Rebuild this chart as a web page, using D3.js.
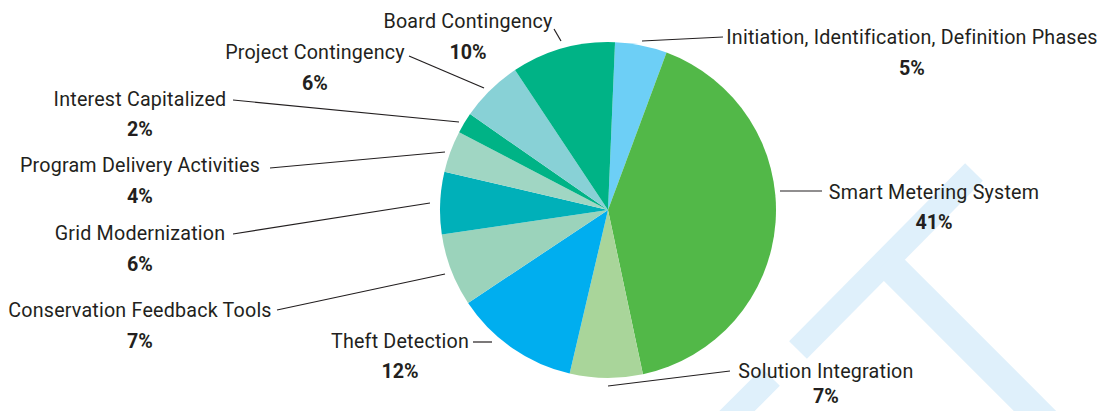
<!DOCTYPE html>
<html>
<head>
<meta charset="utf-8">
<script src="https://cdn.jsdelivr.net/npm/d3@7"></script>
<style>
  body { margin: 0; background: #fff; }
  svg text { font-family: Roboto, "Noto Sans", sans-serif; fill: #231f20; }
</style>
</head>
<body>
<div id="chart"></div>
<script>
// budget categories, clockwise from 12 o'clock
var categories = [
  'Initiation, Identification, Definition Phases',
  'Smart Metering System',
  'Solution Integration',
  'Theft Detection',
  'Conservation Feedback Tools',
  'Grid Modernization',
  'Program Delivery Activities',
  'Interest Capitalized',
  'Project Contingency',
  'Board Contingency'
]
var shares = [5, 41, 7, 12, 7, 6, 4, 2, 6, 10]
var colors = ['#6dcff6', '#52b848', '#a9d59a', '#00aeef', '#9bd3bb',
  '#00b0b9', '#a0d6c3', '#00b386', '#88d1d6', '#00b386']

// label layout: text centre x, baseline y, gap to the % line, leader line [x1,y1,x2,y2]
var labelLayout = [
  { x: 912, y: 44, gap: 30.5, line: [642, 41, 723, 37] },
  { x: 934, y: 199, gap: 29.5, line: [780, 191, 822, 191] },
  { x: 826, y: 378, gap: 25, line: [608, 386, 730, 371] },
  { x: 400, y: 348, gap: 30, line: [473, 342, 492, 342] },
  { x: 140, y: 317, gap: 30.5, line: [277, 310, 445, 274] },
  { x: 140, y: 240, gap: 30.5, line: [233, 234, 430, 203] },
  { x: 140, y: 172, gap: 31, line: [270, 168, 445, 152] },
  { x: 140, y: 106, gap: 30, line: [233, 100, 459, 122] },
  { x: 315, y: 59, gap: 30.5, line: [409, 56, 484, 88] },
  { x: 468, y: 28, gap: 30.5, line: [554, 29, 561, 41] }
]

var w = 1102
var h = 411
var cx = 608, cy = 210, r = 168

var svg = d3.select('#chart')
  .append('svg')
  .attr('width', w)
  .attr('height', h)

// faint watermark strokes in the background
var mark = svg.append('g').attr('stroke', '#dff0fb')
mark.append('line')
  .attr('x1', 798).attr('y1', 350).attr('x2', 974).attr('y2', 172)
  .attr('stroke-width', 25)
mark.append('line')
  .attr('x1', 886).attr('y1', 262).attr('x2', 1080).attr('y2', 456)
  .attr('stroke-width', 30)
mark.append('line')
  .attr('x1', 771).attr('y1', 377).attr('x2', 700).attr('y2', 448)
  .attr('stroke-width', 25)

var data = categories.map((c, i) => ({ name: c, value: shares[i], color: colors[i], pos: labelLayout[i] }))

var start = 2.4 * Math.PI / 180
var pie = d3.pie()
  .sort(null)
  .value(d => d.value)
  .startAngle(start)
  .endAngle(start + 2 * Math.PI)

var arc = d3.arc()
  .innerRadius(0)
  .outerRadius(r)

svg.append('g')
  .attr('transform', `translate(${cx},${cy})`)
  .selectAll('path')
  .data(pie(data))
  .enter()
  .append('path')
  .attr('d', arc)
  .attr('fill', d => d.data.color)

var labels = svg.append('g')
  .selectAll('g')
  .data(data)
  .enter()
  .append('g')

labels.append('line')
  .attr('x1', d => d.pos.line[0])
  .attr('y1', d => d.pos.line[1])
  .attr('x2', d => d.pos.line[2])
  .attr('y2', d => d.pos.line[3])
  .attr('stroke', '#231f20')
  .attr('stroke-width', 1.2)

labels.append('text')
  .attr('x', d => d.pos.x)
  .attr('y', d => d.pos.y)
  .attr('text-anchor', 'middle')
  .style('font-size', '19.7px')
  .style('letter-spacing', '0.2px')
  .text(d => d.name)

labels.append('text')
  .attr('x', d => d.pos.x)
  .attr('y', d => d.pos.y + d.pos.gap)
  .attr('text-anchor', 'middle')
  .style('font-size', '19.7px')
  .style('font-weight', 'bold')
  .text(d => d.value + '%')
</script>
</body>
</html>
